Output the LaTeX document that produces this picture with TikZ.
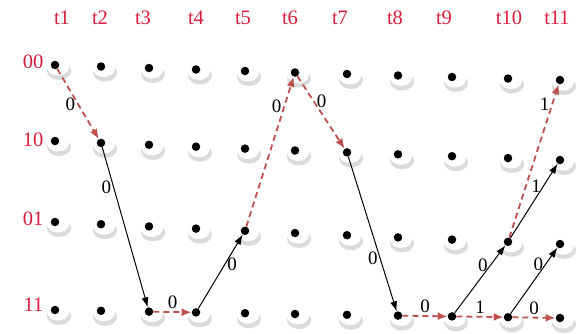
\documentclass[tikz,border=0pt]{standalone}
\usepackage{fontspec}
\setmainfont{Liberation Serif}
\usepackage{tikz}
\usetikzlibrary{arrows.meta, calc}
\definecolor{labelred}{RGB}{215, 30, 60}
\definecolor{pathred}{RGB}{192, 80, 77}

\begin{document}
\begin{tikzpicture}[x=1pt, y=-1pt, >=Latex,
  dot/.style={circle, fill=black, inner sep=0pt, minimum size=8.5pt},
  redpath/.style={pathred, line width=1.8pt, dash pattern=on 6pt off 4pt, -{Latex[length=10pt, width=8pt]}},
  blackpath/.style={black, line width=1pt, -{Latex[length=10pt, width=7pt]}},
  bit/.style={text=black, font=\fontsize{19}{19}\selectfont, inner sep=2pt},
  tick/.style={text=labelred, font=\fontsize{20.5}{20}\selectfont}]
  \useasboundingbox (0,0) rectangle (581,333);
  % states over time
  \foreach \c/\x/\tx in {1/55/62, 2/101/100, 3/149/143, 4/196/196, 5/245/243, 6/295/290,
                         7/347/340, 8/398/395, 9/452/444, 10/508/509, 11/560/557} {
    \node[tick] (t\c) at (\tx,18) {t\c};
    \foreach \r/\yb/\sl in {00/65/1.5, 10/141/1.9, 01/222/2.2, 11/310/0.8} {
      \pgfmathsetmacro\y{\yb+\sl*(\c-1)}
      \fill[gray!28] (\x+4,\y+6) ellipse (12pt and 9pt);
      \fill[white] (\x+3,\y+2) ellipse (11pt and 8.5pt);
      \node[dot] (s\r t\c) at (\x,\y) {};
    }
  }
  \foreach \r/\y in {00/62, 10/140, 01/219, 11/305}
    \node[tick, anchor=east] (l\r) at (47,\y) {\r};

  \draw[redpath] (s00t1) -- (s10t2) node[bit, midway, left] {0};
  \draw[blackpath] (s10t2) -- (s11t3) node[bit, pos=0.25, left] {0};
  \draw[redpath] (s11t3) -- (s11t4) node[bit, midway, above] {0};
  \draw[blackpath] (s11t4) -- (s01t5) node[bit, pos=0.6, right] {0};
  \draw[redpath] (s01t5) -- (s00t6) node[bit, pos=0.8, left] {0};
  \draw[redpath] (s00t6) -- (s10t7) node[bit, pos=0.35, right] {0};
  \draw[blackpath] (s10t7) -- (s11t8) node[bit, pos=0.66, left] {0};
  \draw[redpath] (s11t8) -- (s11t9) node[bit, midway, above] {0};
  \draw[blackpath] (s11t9) -- (s01t10) node[bit, pos=0.7, left] {0};
  \draw[redpath] (s11t9) -- (s11t10) node[bit, midway, above] {1};
  \draw[redpath] (s01t10) -- (s00t11) node[bit, pos=0.87, left] {1};
  \draw[blackpath] (s01t10) -- (s10t11) node[bit, pos=0.7, left] {1};
  \draw[blackpath] (s11t10) -- (s01t11) node[bit, pos=0.75, left] {0};
  \draw[redpath] (s11t10) -- (s11t11) node[bit, midway, above] {0};
\end{tikzpicture}
\end{document}
